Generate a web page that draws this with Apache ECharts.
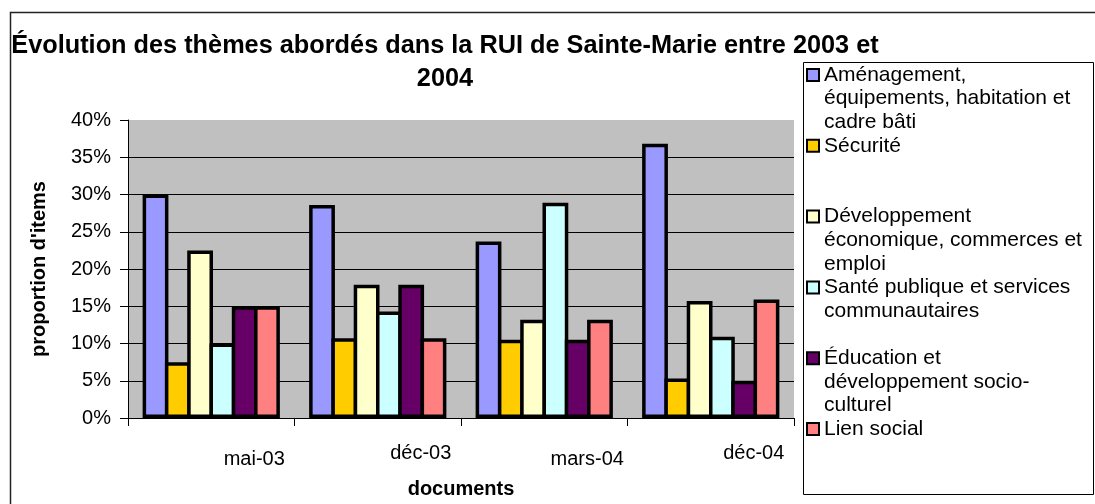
<!DOCTYPE html>
<html><head><meta charset="utf-8">
<script src="https://cdn.jsdelivr.net/npm/echarts@6/dist/echarts.min.js"></script>
<style>html,body{margin:0;padding:0;background:#fff}#c{width:1095px;height:504px}</style>
</head><body><div id="c"></div>
<script>
// ---- data ----
const categories = ['mai-03', 'déc-03', 'mars-04', 'déc-04'];
const seriesNames = [
  'Aménagement, équipements, habitation et cadre bâti',
  'Sécurité',
  'Développement économique, commerces et emploi',
  'Santé publique et services communautaires',
  'Éducation et développement socio-culturel',
  'Lien social'
];
const legendLines = [
  ['Aménagement,', 'équipements, habitation et', 'cadre bâti'],
  ['Sécurité'],
  ['Développement', 'économique, commerces et', 'emploi'],
  ['Santé publique et services', 'communautaires'],
  ['Éducation et', 'développement socio-', 'culturel'],
  ['Lien social']
];
const amenagement   = [30.0, 28.6, 23.7, 36.8];
const securite      = [7.5, 10.7, 10.5, 5.3];
const developpement = [22.5, 17.9, 13.2, 15.7];
const sante         = [10.0, 14.3, 28.9, 10.9];
const education     = [15.0, 17.9, 10.5, 5.0];
const lienSocial    = [15.0, 10.7, 13.2, 15.9];
const yMin = 0, yMax = 40, yStep = 5;
const titleText = 'Évolution des thèmes abordés dans la RUI de Sainte-Marie entre 2003 et\n2004';
const xName = 'documents';
const yName = "proportion d'items";

// ---- styles ----
const colors = ['#9999FF', '#FFCC00', '#FFFFCC', '#CCFFFF', '#660066', '#FF8080'];
const FF = '"Liberation Sans", Arial, sans-serif';
const LH = 23.6;
const BORDER = 3.5;
const values = [amenagement, securite, developpement, sante, education, lienSocial];

const chart = echarts.init(document.getElementById('c'), null, {renderer: 'canvas'});
chart.setOption({
  animation: false,
  backgroundColor: '#ffffff',
  title: {
    text: titleText,
    left: 445, top: 30, padding: 0,
    textAlign: 'center',
    textStyle: {fontFamily: FF, fontSize: 25.3, fontWeight: 'bold', color: '#000', lineHeight: 33}
  },
  graphic: [
    {type: 'rect', z: 100, silent: true, shape: {x: 10.5, y: 12.5, width: 1200, height: 600},
     style: {fill: 'none', stroke: '#222', lineWidth: 1.5}},
    {type: 'rect', z: 100, silent: true, shape: {x: 803.5, y: 62.5, width: 290, height: 432},
     style: {fill: 'none', stroke: '#000', lineWidth: 1}}
  ],
  legend: {
    orient: 'vertical', left: 806, top: 16, padding: 0,
    itemGap: -2 * LH, itemWidth: 12, itemHeight: 12, icon: 'rect',
    selectedMode: false,
    data: seriesNames,
    formatter: function (name) {
      const lines = legendLines[seriesNames.indexOf(name)].slice();
      while (lines.length < 3) lines.push(' ');
      return ' \n \n' + lines.join('\n');
    },
    textStyle: {fontFamily: FF, fontSize: 21, lineHeight: LH, color: '#000'}
  },
  grid: {
    left: 128, right: 301, top: 120, bottom: 85,
    show: true, backgroundColor: '#C0C0C0', borderWidth: 0
  },
  xAxis: {
    type: 'category', data: categories,
    name: xName, nameLocation: 'middle', nameGap: 61,
    nameTextStyle: {fontFamily: FF, fontSize: 20, fontWeight: 'bold', color: '#000'},
    axisLine: {show: true, lineStyle: {color: '#000', width: 1}},
    axisTick: {show: true, length: 8, alignWithLabel: false, lineStyle: {color: '#000'}},
    axisLabel: {
      interval: 0, margin: 25, color: '#000',
      formatter: function (v, i) { return (i % 2 ? '{hi|' : '{lo|') + v + '}'; },
      rich: {
        lo: {fontFamily: FF, fontSize: 20, color: '#000', padding: [6, 0, 0, 86]},
        hi: {fontFamily: FF, fontSize: 20, color: '#000', padding: [0, 0, 0, 86]}
      }
    },
    splitLine: {show: false}
  },
  yAxis: {
    type: 'value', min: yMin, max: yMax, interval: yStep,
    name: yName, nameLocation: 'middle', nameGap: 79,
    nameTextStyle: {fontFamily: FF, fontSize: 20, fontWeight: 'bold', color: '#000'},
    axisLine: {show: true, lineStyle: {color: '#000', width: 1}},
    axisTick: {show: true, length: 8, lineStyle: {color: '#000'}},
    axisLabel: {formatter: '{value}%', fontFamily: FF, fontSize: 20, color: '#000', margin: 17},
    splitLine: {show: true, showMaxLine: false, lineStyle: {color: '#000', width: 1}}
  },
  series: seriesNames.map(function (n, k) {
    return {
      name: n, type: 'bar', data: values[k],
      barWidth: 25.8, barGap: '-13.6%',
      itemStyle: {color: colors[k], borderColor: '#000000', borderWidth: BORDER},
      emphasis: {disabled: true}
    };
  })
});
</script>
</body></html>
